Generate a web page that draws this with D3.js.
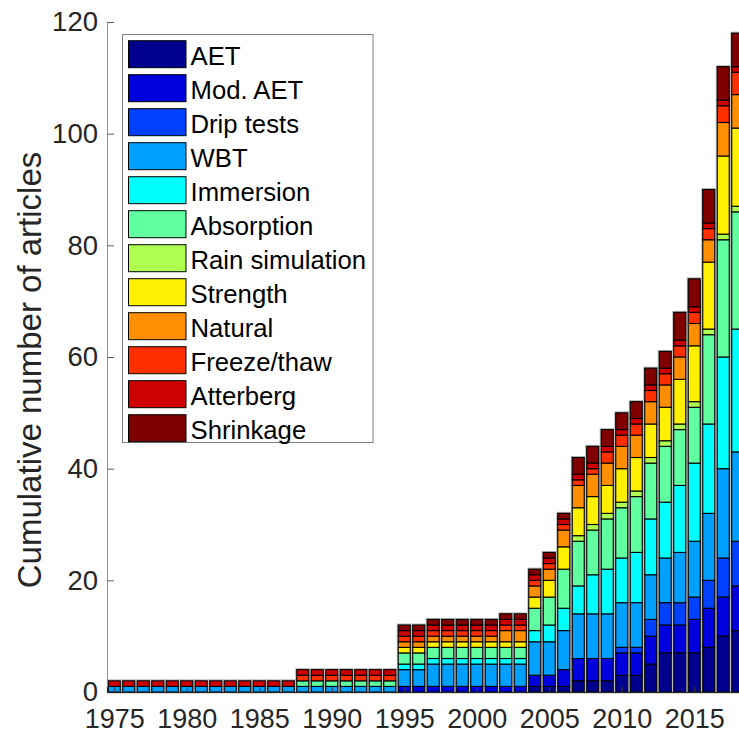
<!DOCTYPE html>
<html><head><meta charset="utf-8">
<script src="https://cdn.jsdelivr.net/npm/d3@7"></script>
<style>html,body{margin:0;padding:0;background:#fff;overflow:hidden}</style>
</head><body>
<svg id="chart" width="739" height="734"></svg>
<script>
const years = d3.range(1975, 2019);
const seriesNames = ["AET","Mod. AET","Drip tests","WBT","Immersion","Absorption","Rain simulation","Strength","Natural","Freeze/thaw","Atterberg","Shrinkage"];
const seriesColors = ["#00008f","#0000df","#0040ff","#00a0ff","#00ffff","#60ffa0","#afff50","#ffef00","#ff8f00","#ff3000","#cf0000","#800000"];
const z = n => Array(n).fill(0), o = (n,v) => Array(n).fill(v);
const AET       = [...z(29), 1,1,1,2,2,2,3,3,5,7,7,7,8,10,11];
const modAET    = [...z(20), ...o(9,1), 2,2,3,4,4,4,4,4,5,5,5,6,7,7,8];
const drip      = [...z(35), 1,1,3,4,4,4,5,7,8];
const WBT       = [...o(20,1), 3,3, ...o(7,4), 6,6,7,8,8,8,8,8,8,8,9,10,12,16,16];
const immersion = [...z(20), ...o(9,1), 2,3,4,5,7,8,8,9,10,10,12,14,16,20,22];
const absorption= [...z(13), ...o(7,1), ...o(9,2), 4,5,7,8,8,9,9,10,10,10,10,10,16,21,21];
const rain      = [...z(32), ...o(12,1)];
const strength  = [...z(20), ...o(9,1), 2,3,4,5,5,5,6,6,6,6,8,10,12,14,14];
const natural   = [...z(20), ...o(7,1), 2,2,2,2,3,4,4,4,4,4,4,4,4,4,4,6,6];
const freeze    = [...z(13), ...o(21,1), 2,2,2,2,2,2,2,2,3,4];
const atterberg = o(44,1);
const shrinkage = [...z(20), ...o(12,1), 3,3,3,3,3,3,3,5,5,6,6,6];
const seriesValues = [AET,modAET,drip,WBT,immersion,absorption,rain,strength,natural,freeze,atterberg,shrinkage];
const yTicks = [0,20,40,60,80,100,120];
const xTicks = [1975,1980,1985,1990,1995,2000,2005,2010,2015];

const svg = d3.select("#chart");
const mLeft = 107, mBottom = 692, mTop = 22, pitch = 14.5;
const x = d3.scaleLinear().domain([1974.5, 2018.5]).range([mLeft, mLeft + 44*pitch]);
const y = d3.scaleLinear().domain([0, 120]).range([mBottom, mTop]);
const font = "'Liberation Sans', Arial, Helvetica, sans-serif";

const table = years.map((yr,i) => { const r = {year: yr}; seriesNames.forEach((s,k) => r[s] = seriesValues[k][i]); return r; });
const stack = d3.stack().keys(seriesNames)(table);
const bw = 12;
const total = d => d3.sum(seriesNames, s => d[s]);

// halo behind bars
svg.append("g").selectAll("rect").data(table).join("rect")
  .attr("x", d => x(d.year) - bw/2).attr("width", bw)
  .attr("y", d => y(total(d))).attr("height", d => mBottom - y(total(d)))
  .attr("fill", "none").attr("stroke", "#b8b8b8").attr("stroke-width", 3);

stack.forEach((layer, k) => {
  svg.append("g").selectAll("rect").data(layer.filter(d => d[1] > d[0])).join("rect")
    .attr("x", d => x(d.data.year) - bw/2).attr("width", bw)
    .attr("y", d => y(d[1])).attr("height", d => y(d[0]) - y(d[1]))
    .attr("fill", seriesColors[k]).attr("stroke", "#000").attr("stroke-width", 1.1);
});

// axes
const yAxis = d3.axisLeft(y).tickValues(yTicks).tickSize(-7).tickPadding(9);
const gy = svg.append("g").attr("transform", `translate(${mLeft},0)`).call(yAxis);
gy.select(".domain").attr("stroke", "#909090");
gy.selectAll(".tick line").attr("stroke", "#606060");
gy.selectAll("text").attr("font-family", font).attr("font-size", 27.5).attr("fill", "#262626");

const xAxis = d3.axisBottom(x).tickValues(xTicks).tickFormat(d3.format("d")).tickSize(-5).tickPadding(16.5);
const gx = svg.append("g").attr("transform", `translate(0,${mBottom})`).call(xAxis);
gx.select(".domain").attr("stroke", "#262626");
gx.selectAll(".tick line").attr("stroke", "#404040");
gx.selectAll("text").attr("font-family", font).attr("font-size", 27).attr("fill", "#262626");

svg.append("text").attr("transform", `translate(41,370) rotate(-90)`)
  .attr("text-anchor", "middle").attr("font-family", font).attr("font-size", 33).attr("fill", "#262626")
  .text("Cumulative number of articles");

// legend
const lg = svg.append("g");
lg.append("rect").attr("x", 122.5).attr("y", 34.5).attr("width", 250.5).attr("height", 408)
  .attr("fill", "#fff").attr("stroke", "#808080").attr("stroke-width", 1);
seriesNames.forEach((s, k) => {
  const ty = 40.7 + k*34;
  lg.append("rect").attr("x", 128.5).attr("y", ty).attr("width", 57.5).attr("height", 27)
    .attr("fill", seriesColors[k]).attr("stroke", "#000").attr("stroke-width", 1);
  lg.append("text").attr("x", 190.5).attr("y", ty + 24.3).attr("font-family", font).attr("font-size", 25.7)
    .attr("fill", "#000").text(s);
});
</script>
</body></html>
